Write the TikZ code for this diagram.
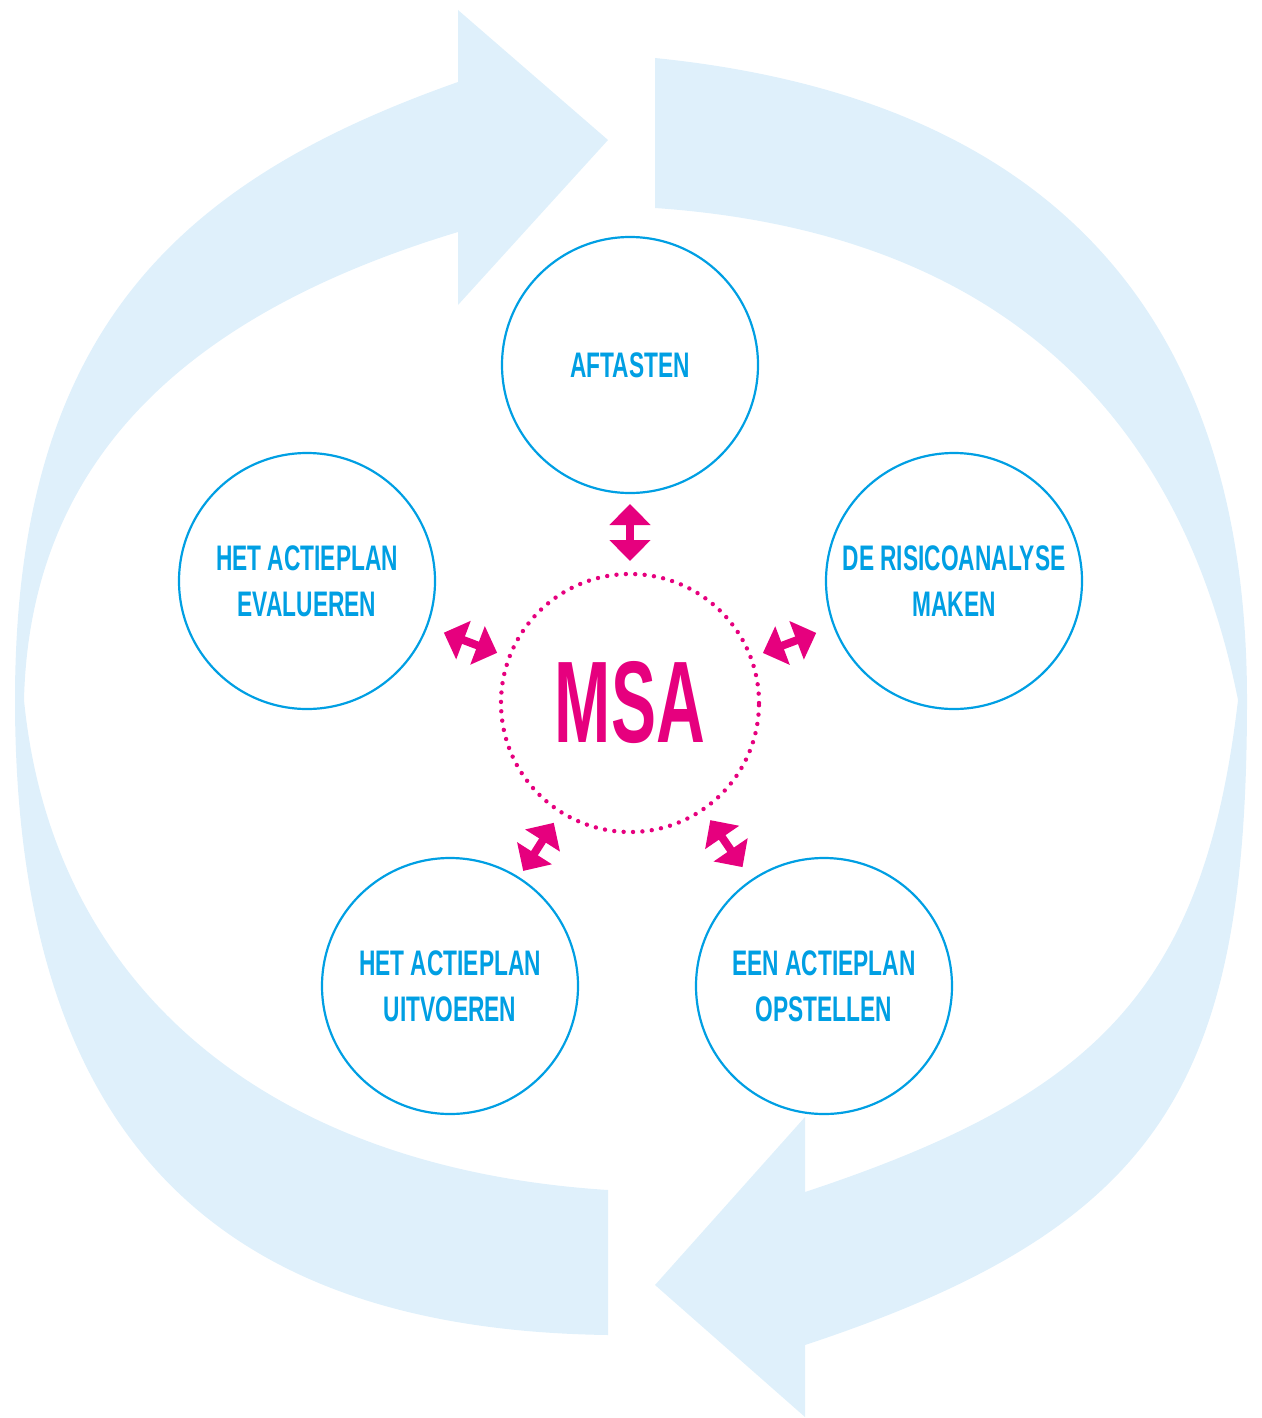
\documentclass[tikz,border=0pt]{standalone}
\usepackage{fontspec}
\setmainfont{Liberation Sans}
\newfontfamily\labelfont{Liberation Sans}[FakeStretch=0.64]
\usetikzlibrary{arrows.meta,calc}
\definecolor{bandc}{RGB}{223,240,251}
\definecolor{cyanc}{RGB}{0,159,227}
\definecolor{magc}{RGB}{230,0,126}
\tikzset{
  stage/.style={circle, draw=cyanc, fill=white, line width=2.2pt, minimum size=256pt,
    inner sep=0pt, text=cyanc, align=center,
    font=\labelfont\bfseries\fontsize{35.5}{46}\selectfont},
  hub/.style={circle, draw=magc, line width=4.4pt, line cap=round,
    dash pattern=on 0pt off 9.4pt, minimum size=258pt, inner sep=0pt, text=magc,
    font=\labelfont\bfseries},
  dblarrow/.style={magc, line width=8pt,
    {Triangle[width=40pt,length=21pt]}-{Triangle[width=40pt,length=21pt]}},
  band/.style={fill=bandc, draw=none}
}
\begin{document}
\begin{tikzpicture}[x=1pt,y=-1pt]
\useasboundingbox (0,0) rectangle (1261,1418);
% left cyclic arrow
\fill[band] (458,82) .. controls (180,180) and (15,330) .. (15,700)
  .. controls (15,1150) and (230,1330) .. (608,1335)
  -- (608,1190) .. controls (265,1168) and (52,985) .. (24,700)
  .. controls (30,450) and (200,310) .. (458,232)
  -- (458,305) -- (608,140) -- (458,10) -- cycle;
% right cyclic arrow
\fill[band] (655,58) .. controls (1030,96) and (1247,295) .. (1247,700)
  .. controls (1247,1080) and (1165,1226) .. (805,1345)
  -- (805,1417) -- (655,1285) -- (805,1117) -- (805,1192)
  .. controls (1095,1096) and (1204,990) .. (1238,700)
  .. controls (1184,430) and (1015,233) .. (655,208) -- cycle;
% stages
\node[stage] (a) at (630,365) {AFTASTEN};
\node[stage] (b) at (954,581) {DE RISICOANALYSE\\MAKEN};
\node[stage] (c) at (824,986) {EEN ACTIEPLAN\\OPSTELLEN};
\node[stage] (d) at (450,986) {HET ACTIEPLAN\\UITVOEREN};
\node[stage] (e) at (307,581) {HET ACTIEPLAN\\EVALUEREN};
% hub
\node[hub] (msa) at (630,703) {\resizebox{150pt}{81pt}{MSA}};
% connectors
\foreach \n in {a,b,c,d,e}
  \draw[dblarrow] ($(msa.center)!142pt!(\n.center)$) -- ($(msa.center)!199pt!(\n.center)$);
\end{tikzpicture}
\end{document}
